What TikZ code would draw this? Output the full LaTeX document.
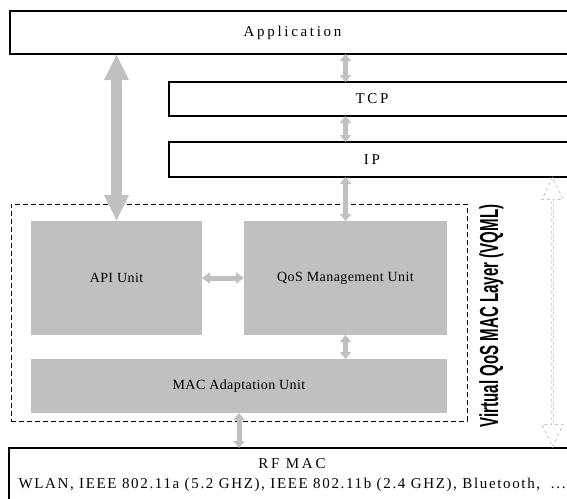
\documentclass[tikz,border=0pt]{standalone}
\usepackage{fontspec}
\setmainfont{Liberation Serif}
\newfontfamily\spacedfont{Liberation Serif}[LetterSpace=18]
\newfontfamily\linefont{Liberation Serif}[LetterSpace=11]
\newfontfamily\unitfont{Liberation Serif}[LetterSpace=3]
\newfontfamily\vqmlfont{Liberation Sans}
\usepackage{tikz}
\usetikzlibrary{arrows.meta,shapes.arrows}
\definecolor{unitgray}{HTML}{C0C0C0}
\definecolor{hintgray}{HTML}{C4C4C4}

\begin{document}
\begin{tikzpicture}[
  x=1pt, y=-1pt,
  font=\fontsize{15}{20}\selectfont,
  layer/.style={draw, line width=1.3pt, anchor=north west, inner sep=0pt,
                outer sep=0pt, font=\spacedfont\fontsize{15}{20}\selectfont},
  unit/.style={fill=unitgray, anchor=north west, inner sep=0pt, outer sep=0pt,
               font=\unitfont\fontsize{14}{18}\selectfont},
  frame/.style={draw, dashed, dash pattern=on 5pt off 3pt, line width=0.8pt,
                anchor=north west, inner sep=0pt, outer sep=0pt},
  arrow/.style={{Triangle[width=11pt,length=7pt]}-{Triangle[width=11pt,length=7pt]},
                draw=unitgray, line width=5pt},
  bigarrow/.style={{Triangle[width=23pt,length=26pt]}-{Triangle[width=23pt,length=26pt]},
                   draw=unitgray, line width=11pt},
  hintarrow/.style={double arrow, draw=hintgray, dashed, line width=0.8pt,
                    inner sep=0pt, minimum width=21pt, double arrow head extend=5pt,
                    double arrow tip angle=50}
]
\useasboundingbox (0,0) rectangle (567,498);

% protocol stack
\node[layer, minimum width=565pt, minimum height=43pt] (app) at (10,11) {Application};
\node[layer, minimum width=406pt, minimum height=34pt] (tcp) at (169,82) {TCP};
\node[layer, minimum width=406pt, minimum height=35pt] (ip) at (169,142) {IP};
\node[layer, minimum width=566pt, text height=40pt, text depth=20pt, align=center,
      anchor=north west] (rf) at (9,448)
  {RF MAC\\{\linefont\fontsize{15}{20}\selectfont WLAN, IEEE 802.11a (5.2 GHZ), IEEE 802.11b (2.4 GHZ), Bluetooth,\ \ ...}};

% VQML
\node[frame, minimum width=456pt, minimum height=217pt] (vqml) at (11,204) {};
\node[unit, minimum width=171pt, minimum height=114pt] (api) at (31,221) {API Unit};
\node[unit, minimum width=203pt, minimum height=114pt] (qos) at (244,221) {QoS Management Unit};
\node[unit, minimum width=416pt, minimum height=54pt] (mac) at (31,359) {MAC Adaptation Unit};
\node[rotate=90, inner sep=0pt, font=\vqmlfont\bfseries\fontsize{26}{26}\selectfont]
  (vqmllabel) at (491.5,316) {\scalebox{0.58}[1]{Virtual QoS MAC Layer (VQML)}};

% connectors
\draw[arrow] (app.south -| qos.north) -- (tcp.north -| qos.north);
\draw[arrow] (tcp.south -| qos.north) -- (ip.north -| qos.north);
\draw[arrow] (ip.south -| qos.north) -- (qos.north);
\draw[bigarrow] (app.south -| api.north) -- (api.north);
\draw[arrow, {Triangle[width=11pt,length=8pt]}-{Triangle[width=11pt,length=8pt]}] (api.east) -- (qos.west);
\draw[arrow] (qos.south) -- (mac.north -| qos.south);
\draw[arrow] (mac.south) -- (rf.north -| mac.south);
\node[hintarrow, rotate=90, minimum height=270pt] (span) at (552.5,312) {};
\end{tikzpicture}
\end{document}
